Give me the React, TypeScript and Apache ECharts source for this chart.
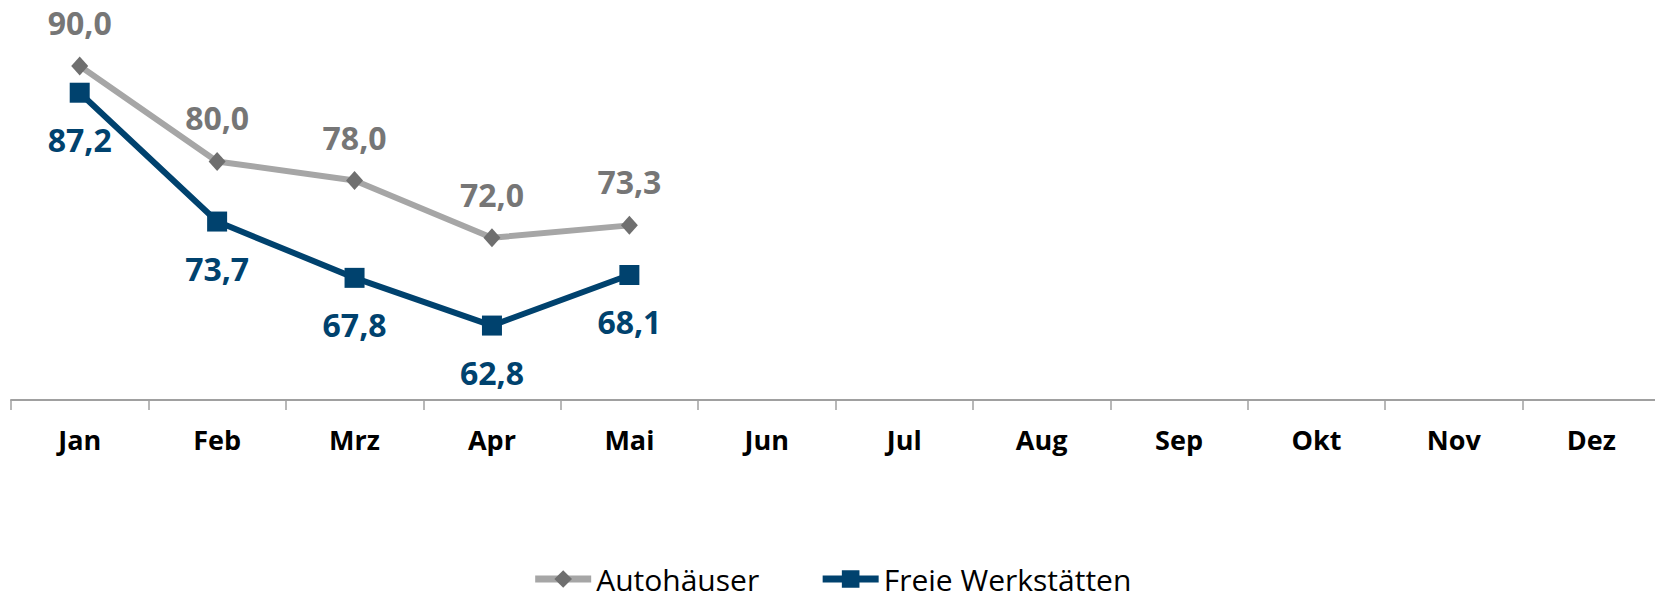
import React, { useEffect, useRef } from "react";
import * as echarts from "echarts";

const categories = ["Jan", "Feb", "Mrz", "Apr", "Mai", "Jun", "Jul", "Aug", "Sep", "Okt", "Nov", "Dez"];
const autohaeuser = [90.0, 80.0, 78.0, 72.0, 73.3, null, null, null, null, null, null, null];
const freieWerkstaetten = [87.2, 73.7, 67.8, 62.8, 68.1, null, null, null, null, null, null, null];

const FONT = "'Open Sans', 'Noto Sans', sans-serif";
const GRAY_LINE = "#a6a6a6";
const GRAY_MARK = "#6f6f6f";
const GRAY_LABEL = "#767676";
const BLUE = "#00426e";

const fmt = (p: any) => (p.value == null ? "" : Number(p.value).toFixed(1).replace(".", ","));

export default function App() {
  const ref = useRef<HTMLDivElement>(null);
  useEffect(() => {
    if (!ref.current) return;
    const chart = echarts.init(ref.current, undefined, { renderer: "svg" });
    chart.setOption({
      animation: false,
      grid: { left: 11, right: 3, top: 66, bottom: 199, containLabel: false },
      xAxis: {
        type: "category",
        data: categories,
        boundaryGap: true,
        axisLine: { lineStyle: { color: "#a0a0a0", width: 2 } },
        axisTick: { show: true, length: 10, inside: false, lineStyle: { color: "#a0a0a0", width: 1.5 } },
        axisLabel: { color: "#000", fontFamily: FONT, fontWeight: "bold", fontSize: 27, margin: 26 },
      },
      yAxis: { type: "value", min: 55, max: 90, show: false, splitLine: { show: false } },
      legend: {
        bottom: 0,
        left: "center",
        itemWidth: 56,
        itemHeight: 22,
        itemGap: 60,
        lineStyle: { width: 7 },
        textStyle: { fontFamily: FONT, fontSize: 30, color: "#000" },
        data: ["Autohäuser", "Freie Werkstätten"],
      },
      series: [
        {
          name: "Freie Werkstätten",
          type: "line",
          data: freieWerkstaetten,
          symbol: "rect",
          symbolSize: 20,
          lineStyle: { color: BLUE, width: 6 },
          itemStyle: { color: BLUE },
          label: {
            show: true,
            position: "bottom",
            distance: 21,
            formatter: fmt,
            color: BLUE,
            fontFamily: FONT,
            fontWeight: "bold",
            fontSize: 32,
          },
          z: 2,
        },
        {
          name: "Autohäuser",
          type: "line",
          data: autohaeuser,
          symbol: "diamond",
          symbolSize: [17, 19],
          lineStyle: { color: GRAY_LINE, width: 6 },
          itemStyle: { color: GRAY_MARK },
          label: {
            show: true,
            position: "top",
            distance: 18,
            formatter: fmt,
            color: GRAY_LABEL,
            fontFamily: FONT,
            fontWeight: "bold",
            fontSize: 32,
          },
          z: 3,
        },
      ],
    });
    return () => chart.dispose();
  }, []);
  return <div ref={ref} style={{ width: 1663, height: 599, margin: -8 }} />;
}
